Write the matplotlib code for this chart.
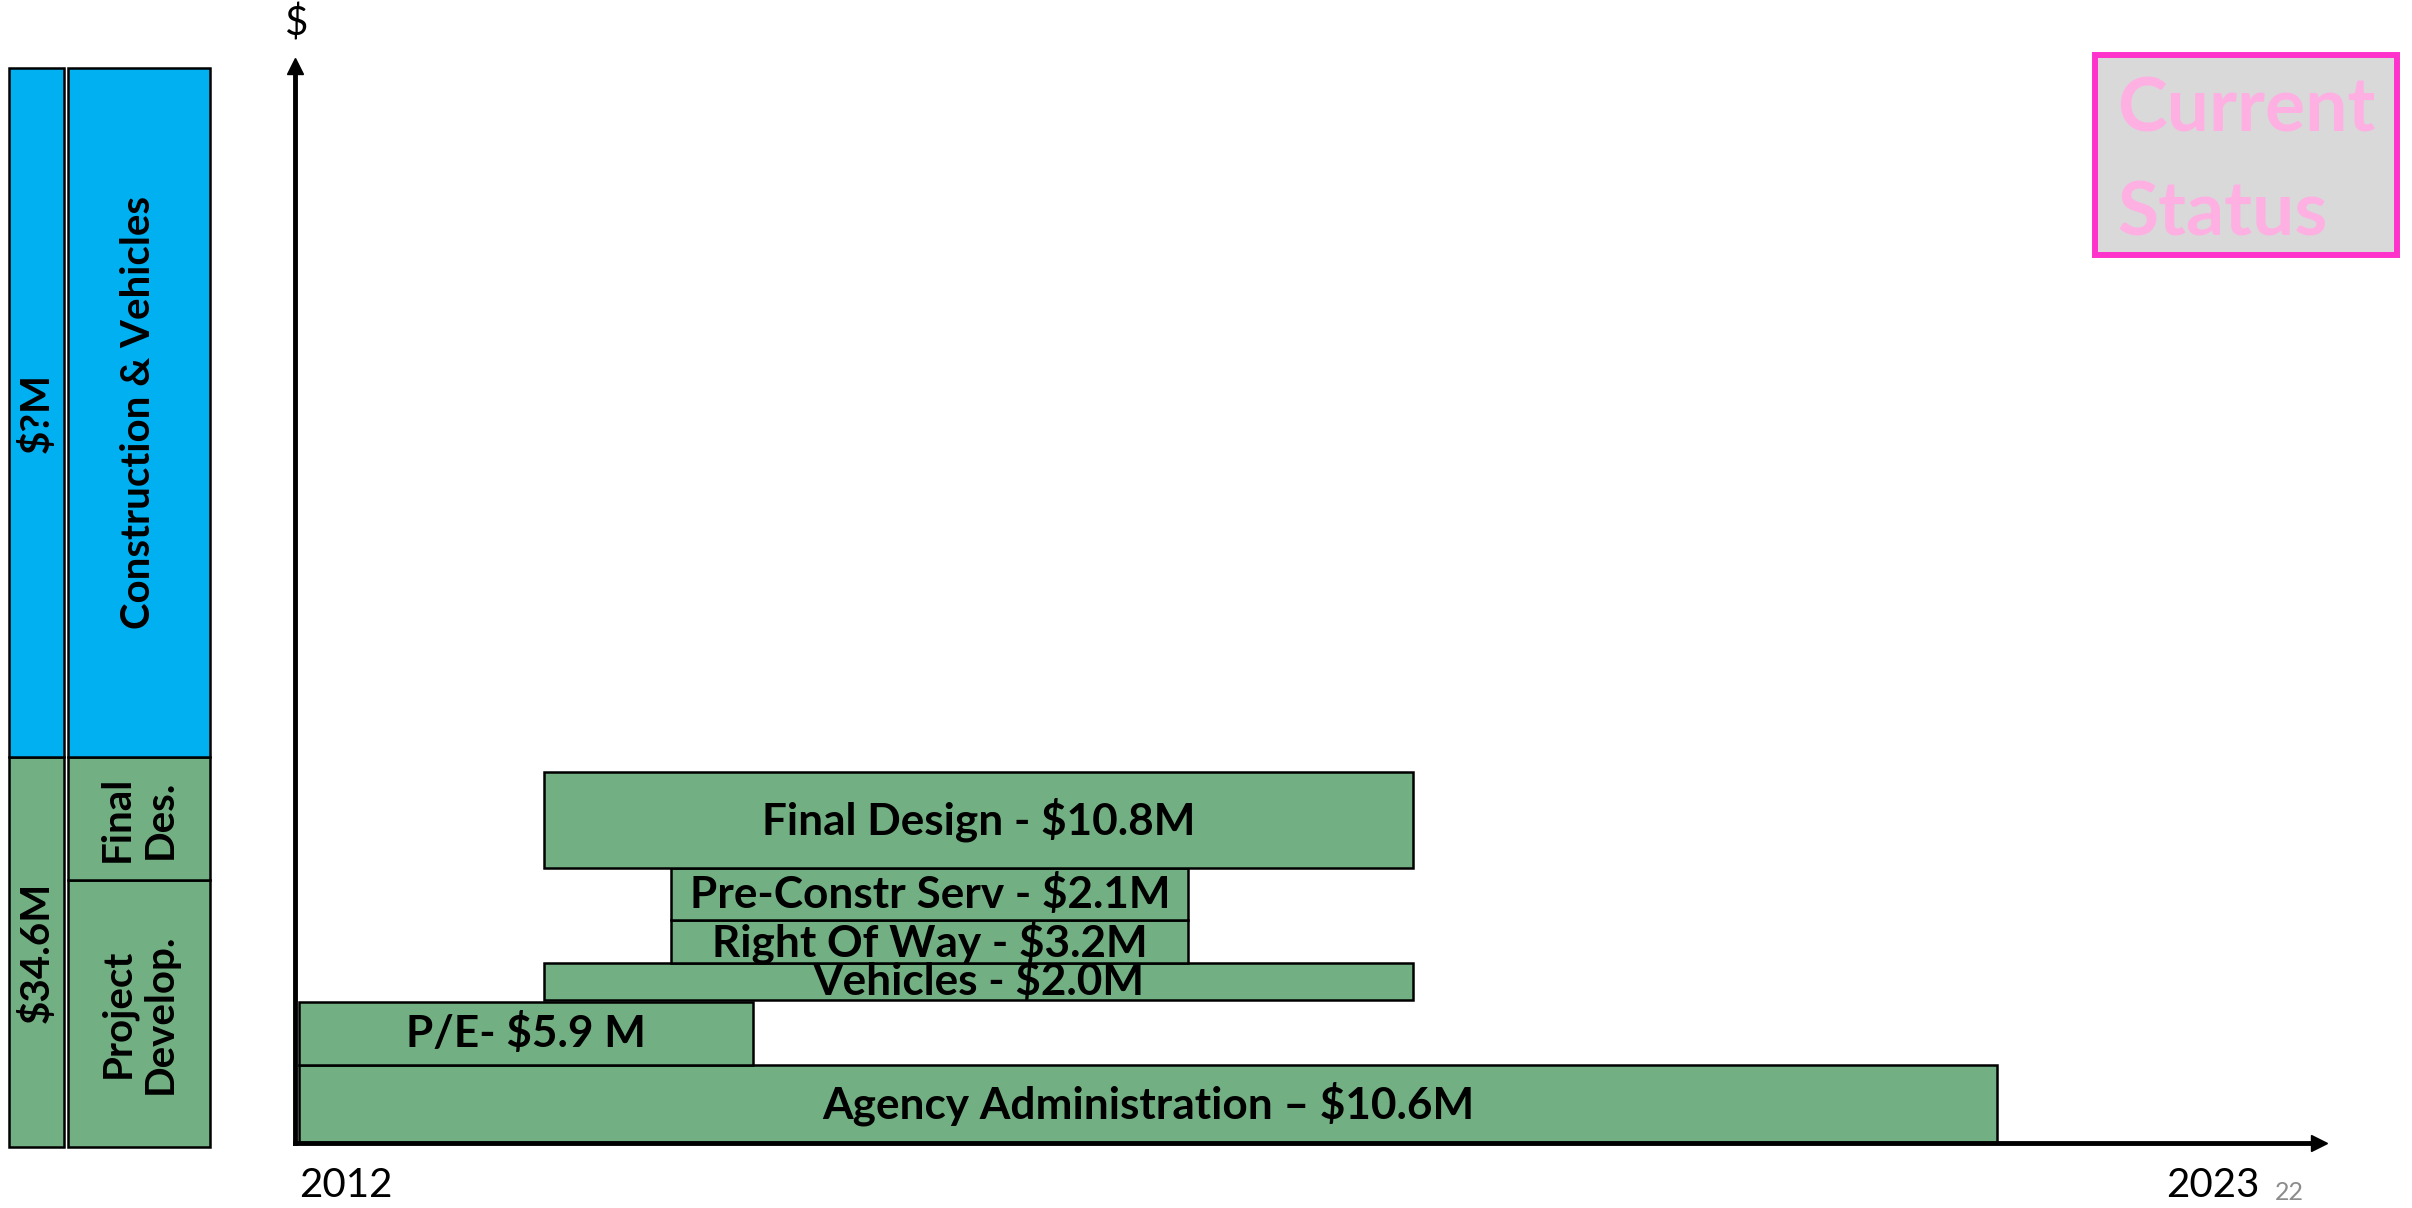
import matplotlib
matplotlib.use("Agg")
import matplotlib.pyplot as plt
from matplotlib.patches import Rectangle
import numpy as np

plt.rcParams["font.family"] = ["Lato", "DejaVu Sans"]

# budget summary column (left side)
phase_labels = ["Project\nDevelop.", "Final\nDes.", "Construction & Vehicles"]
phase_share = [0.247, 0.114, 0.639]
budget_labels = ["$34.6M", "$?M"]
budget_share = [0.361, 0.639]

# timeline bars
task_labels = [
    "Agency Administration \u2013 $10.6M",
    "P/E- $5.9 M",
    "Vehicles - $2.0M",
    "Right Of Way - $3.2M",
    "Pre-Constr Serv - $2.1M",
    "Final Design - $10.8M",
]
task_start = [2012.0, 2012.0, 2013.41, 2014.14, 2014.14, 2013.41]
task_end = [2021.76, 2014.61, 2018.40, 2017.11, 2017.11, 2018.40]
task_bottom = [0.0, 7.8, 14.3, 18.0, 22.3, 27.5]
task_top = [7.8, 14.1, 18.0, 22.3, 27.5, 37.1]

year_ticks = [2012, 2023]
page_number = "22"

GREEN = "#72AF82"
BLUE = "#00B0F0"
W, H = 2412, 1208


def fx(px):
    return px / W


def fy(py):
    return 1 - py / H


fig = plt.figure(figsize=(W / 100, H / 100), dpi=100)

# ---- main timeline axes ----
ax_l, ax_r, ax_b, ax_t = 295, 2319, 1143, 66
ax = fig.add_axes([fx(ax_l), fy(ax_b), fx(ax_r - ax_l), (ax_b - ax_t) / H])
px_per_year = 174.0
ax.set_xlim(2012 - 4 / px_per_year, 2012 + (ax_r - 299) / px_per_year)
ax.set_ylim(0, (ax_b - ax_t) / 10.0)

start = np.array(task_start)
end = np.array(task_end)
bottom = np.array(task_bottom)
top = np.array(task_top)
ax.barh(bottom, end - start, height=top - bottom, left=start, align="edge",
        color=GREEN, edgecolor="black", linewidth=1.8, zorder=2)
for lab, s, e, b, t in zip(task_labels, start, end, bottom, top):
    ax.text((s + e) / 2, (b + t) / 2, lab, ha="center", va="center",
            fontsize=31.8, fontweight="bold", color="black", zorder=3)

for side in ("top", "right"):
    ax.spines[side].set_visible(False)
for side in ("left", "bottom"):
    ax.spines[side].set_linewidth(3.5)
    ax.spines[side].set_zorder(4)
ax.plot(1, 0, ">", color="black", ms=12, transform=ax.transAxes, clip_on=False, zorder=5)
ax.plot(0, 1, "^", color="black", ms=12, transform=ax.transAxes, clip_on=False, zorder=5)

ax.set_yticks([])
ax.set_xticks(year_ticks)
ax.set_xticklabels([str(y) for y in year_ticks])
ax.tick_params(axis="x", length=0, pad=17, labelsize=29)
ax.get_xticklabels()[0].set_horizontalalignment("left")

fig.text(fx(297), fy(24), "$", ha="center", va="center", fontsize=29)
fig.text(fx(2289), fy(1192), page_number, ha="center", va="center",
         fontsize=18, color="#8C8C8C")

# ---- left budget column ----
side = fig.add_axes([0, fy(1147), fx(230), 1079 / H])
side.set_xlim(0, 230)
side.set_ylim(0, 1)
side.axis("off")

b_bottom = np.concatenate([[0], np.cumsum(budget_share)[:-1]])
side.bar(36.5, budget_share, bottom=b_bottom, width=55, color=[GREEN, BLUE],
         edgecolor="black", linewidth=1.8, clip_on=False)
for lab, b, h in zip(budget_labels, b_bottom, budget_share):
    side.text(36.5, b + h / 2, lab, rotation=90, ha="center", va="center",
              fontsize=29, fontweight="bold")

p_bottom = np.concatenate([[0], np.cumsum(phase_share)[:-1]])
side.bar(139, phase_share, bottom=p_bottom, width=142, color=[GREEN, GREEN, BLUE],
         edgecolor="black", linewidth=1.8, clip_on=False)
for lab, b, h in zip(phase_labels, p_bottom, phase_share):
    side.text(139, b + h / 2, lab, rotation=90, ha="center", va="center",
              fontsize=29, fontweight="bold", linespacing=1.2,
              multialignment="center")

# ---- status badge ----
fig.patches.append(Rectangle((fx(2095), fy(255)), fx(2397 - 2095), (255 - 55) / H,
                             transform=fig.transFigure, facecolor="#D9D9D9",
                             edgecolor="#FF33CC", linewidth=4.3))
fig.text(fx(2117), fy(132), "Current", ha="left", va="baseline", fontsize=54,
         fontweight="bold", color="#FFB0E3")
fig.text(fx(2117), fy(235), "Status", ha="left", va="baseline", fontsize=54,
         fontweight="bold", color="#FFB0E3")

fig.savefig("out.png", dpi=100)
